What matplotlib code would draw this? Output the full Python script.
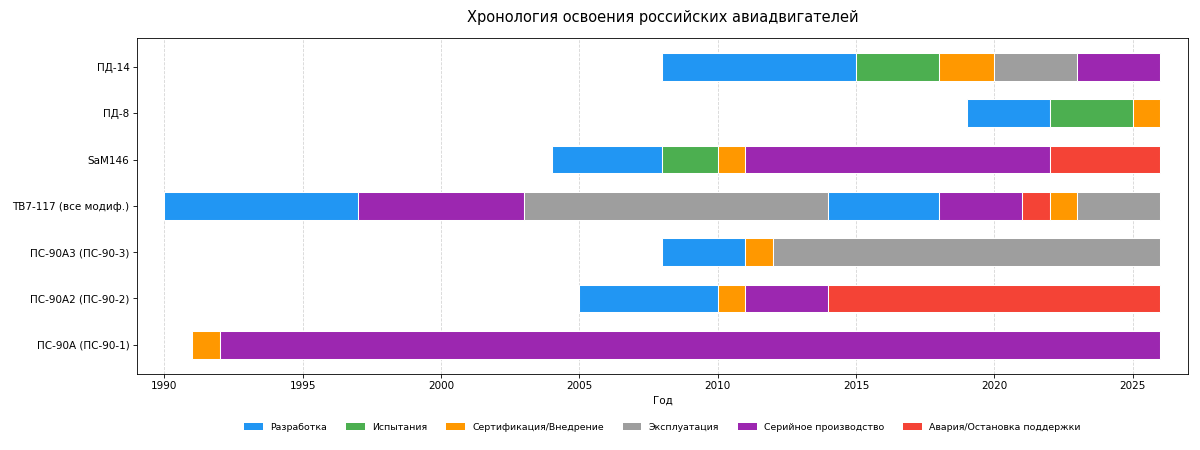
import matplotlib
matplotlib.use("Agg")
import matplotlib.pyplot as plt
from matplotlib.patches import Patch

engines = ["ПС-90А (ПС-90-1)", "ПС-90А2 (ПС-90-2)", "ПС-90А3 (ПС-90-3)",
           "ТВ7-117 (все модиф.)", "SaM146", "ПД-8", "ПД-14"]

phases = ["Разработка", "Испытания", "Сертификация/Внедрение",
          "Эксплуатация", "Серийное производство", "Авария/Остановка поддержки"]
colors = ["#2196F3", "#4CAF50", "#FF9800", "#9E9E9E", "#9C27B0", "#F44336"]

# (phase, start, end) per engine
ps90a = [("Сертификация/Внедрение", 1991, 1992), ("Серийное производство", 1992, 2026)]
ps90a2 = [("Разработка", 2005, 2010), ("Сертификация/Внедрение", 2010, 2011),
          ("Серийное производство", 2011, 2014), ("Авария/Остановка поддержки", 2014, 2026)]
ps90a3 = [("Разработка", 2008, 2011), ("Сертификация/Внедрение", 2011, 2012),
          ("Эксплуатация", 2012, 2026)]
tv7 = [("Разработка", 1990, 1997), ("Серийное производство", 1997, 2003),
       ("Эксплуатация", 2003, 2014), ("Разработка", 2014, 2018),
       ("Серийное производство", 2018, 2021), ("Авария/Остановка поддержки", 2021, 2022),
       ("Сертификация/Внедрение", 2022, 2023), ("Эксплуатация", 2023, 2026)]
sam146 = [("Разработка", 2004, 2008), ("Испытания", 2008, 2010),
          ("Сертификация/Внедрение", 2010, 2011), ("Серийное производство", 2011, 2022),
          ("Авария/Остановка поддержки", 2022, 2026)]
pd8 = [("Разработка", 2019, 2022), ("Испытания", 2022, 2025),
       ("Сертификация/Внедрение", 2025, 2026)]
pd14 = [("Разработка", 2008, 2015), ("Испытания", 2015, 2018),
        ("Сертификация/Внедрение", 2018, 2020), ("Эксплуатация", 2020, 2023),
        ("Серийное производство", 2023, 2026)]

timeline = [ps90a, ps90a2, ps90a3, tv7, sam146, pd8, pd14]
cmap = dict(zip(phases, colors))

fig = plt.figure(figsize=(16, 6), dpi=75)
ax = fig.add_axes([0.114, 0.169, 0.876, 0.747])

for i, segs in enumerate(timeline):
    for ph, s, e in segs:
        ax.barh(i, e - s, left=s, height=0.6, color=cmap[ph],
                edgecolor="white", linewidth=1, zorder=3)

ax.set_yticks(range(len(engines)))
ax.set_yticklabels(engines)
ax.set_xlim(1989, 2027)
ax.set_xticks(range(1990, 2026, 5))
ax.set_xlabel("Год")
ax.set_title("Хронология освоения российских авиадвигателей", fontsize=14, pad=15)
ax.grid(axis="x", linestyle="--", color="#cccccc", alpha=0.8, zorder=0)
ax.set_axisbelow(True)

handles = [Patch(facecolor=c, label=p) for p, c in zip(phases, colors)]
ax.legend(handles=handles, loc="center", bbox_to_anchor=(0.5, -0.158), ncol=6,
          frameon=False, fontsize=9, columnspacing=2.0)

fig.savefig("out.png", dpi=75)
